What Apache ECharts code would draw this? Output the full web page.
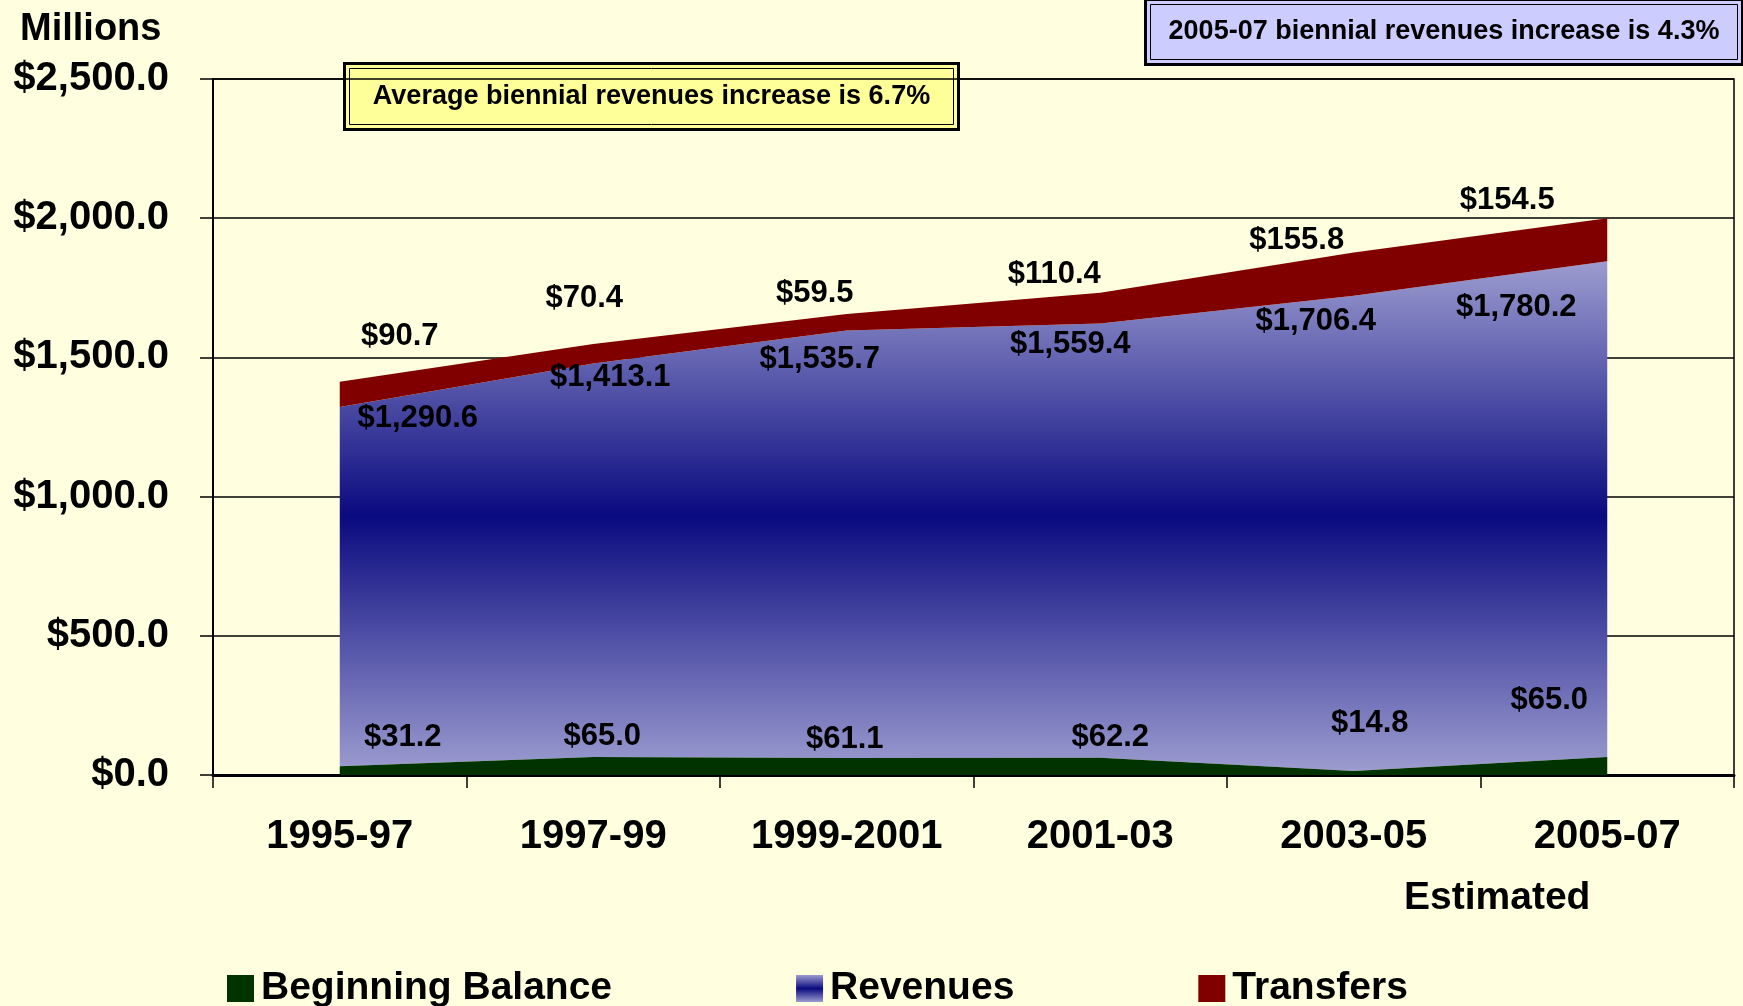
<!DOCTYPE html>
<html>
<head>
<meta charset="utf-8">
<script src="https://cdn.jsdelivr.net/npm/echarts@6/dist/echarts.min.js"></script>
<style>
  html, body { margin: 0; padding: 0; background: #ffffe0; }
  #chart { width: 1743px; height: 1006px; }
</style>
</head>
<body>
<div id="chart"></div>
<script>
const BIENNIUMS = ['1995-97', '1997-99', '1999-2001', '2001-03', '2003-05', '2005-07']
const BEGINNING_BALANCE = [31.2, 65.0, 61.1, 62.2, 14.8, 65.0]
const REVENUES = [1290.6, 1413.1, 1535.7, 1559.4, 1706.4, 1780.2]
const TRANSFERS = [90.7, 70.4, 59.5, 110.4, 155.8, 154.5]
const Y_MIN = 0
const Y_MAX = 2500
const Y_STEP = 500

// label nudges in px, the original had its labels dragged around by hand
const BALANCE_LABEL_SHIFT = [[63, -29], [9, -20], [-2, -19], [10, -20], [16, -47], [-58, -56]]
const REVENUE_LABEL_SHIFT = [[78, 11], [17, 14], [-27, 29], [-30, 21], [-38, 26], [-91, 46]]
const TRANSFER_LABEL_SHIFT = [[60, -45], [-9, -45], [-32, -20], [-46, -18], [-57, -12], [-100, -18]]

const FONT = '"Liberation Sans", Arial, Helvetica, sans-serif'

const COLORS = {
  balance: '#003300',
  transfers: '#800000',
  revenues: new echarts.graphic.LinearGradient(0, 0, 0, 1, [
    { offset: 0, color: '#9c9cd0' },
    { offset: 0.5, color: '#0a0a80' },
    { offset: 1, color: '#9c9cd0' }
  ])
}

function money(v) {
  return '$' + v.toLocaleString('en-US', { minimumFractionDigits: 1, maximumFractionDigits: 1 })
}

function areaSeries(name, values, shifts, fill, z) {
  return {
    name,
    type: 'line',
    stack: 'total',
    z,
    data: values.map((v, i) => ({ value: v, label: { offset: shifts[i] } })),
    symbol: 'circle',
    symbolSize: 0,
    showSymbol: true,
    lineStyle: { width: 0 },
    itemStyle: { color: fill },
    areaStyle: { color: fill, opacity: 1 },
    label: {
      show: true,
      position: 'inside',
      formatter: p => money(p.value),
      color: '#000',
      textBorderWidth: 0,
      fontSize: 31,
      fontWeight: 'bold',
      fontFamily: FONT
    },
    emphasis: { disabled: true }
  }
}

function noteBox(x, y, w, h, fill, text) {
  return {
    type: 'group',
    left: x,
    top: y,
    z: 50,
    children: [
      { type: 'rect', shape: { x: 0, y: 0, width: w, height: h }, style: { fill, stroke: '#000', lineWidth: 3 } },
      { type: 'rect', shape: { x: 5, y: 5, width: w - 10, height: h - 10 }, style: { fill: 'none', stroke: '#000', lineWidth: 1 } },
      {
        type: 'text',
        x: w / 2,
        y: h / 2,
        style: {
          text,
          fill: '#000',
          font: 'bold 27px ' + FONT,
          align: 'center',
          verticalAlign: 'middle'
        }
      }
    ]
  }
}

const chart = echarts.init(document.getElementById('chart'))

chart.setOption({
  backgroundColor: '#ffffe0',
  animation: false,
  grid: {
    left: 213, right: 9, top: 79, bottom: 231,
    show: true,
    borderColor: '#000',
    borderWidth: 1.5,
    backgroundColor: 'transparent'
  },
  legend: {
    left: 222,
    top: 964,
    icon: 'rect',
    itemWidth: 27,
    itemHeight: 27,
    itemGap: 184,
    textStyle: { fontSize: 39, fontWeight: 'bold', fontFamily: FONT, color: '#000', padding: [0, 0, 0, 2] },
    data: [
      { name: 'Beginning Balance', itemStyle: { color: COLORS.balance, borderWidth: 0 }, lineStyle: { width: 0 } },
      { name: 'Revenues', itemStyle: { color: COLORS.revenues, borderWidth: 0 }, lineStyle: { width: 0 } },
      { name: 'Transfers', itemStyle: { color: COLORS.transfers, borderWidth: 0 }, lineStyle: { width: 0 } }
    ]
  },
  xAxis: {
    type: 'category',
    data: BIENNIUMS,
    boundaryGap: true,
    axisLine: { lineStyle: { color: '#000', width: 3 } },
    axisTick: { show: true, length: 13, lineStyle: { color: '#000', width: 1.5 } },
    axisLabel: { color: '#000', fontSize: 40, fontWeight: 'bold', fontFamily: FONT, margin: 42 },
    splitLine: { show: false }
  },
  yAxis: {
    type: 'value',
    min: Y_MIN,
    max: Y_MAX,
    interval: Y_STEP,
    axisLine: { show: true, lineStyle: { color: '#000', width: 2 } },
    axisTick: { show: true, length: 13, lineStyle: { color: '#000', width: 1.5 } },
    axisLabel: { color: '#000', fontSize: 40, fontWeight: 'bold', fontFamily: FONT, margin: 44, formatter: v => money(v) },
    splitLine: { show: true, lineStyle: { color: '#000', width: 1.5 } }
  },
  graphic: [
    {
      type: 'text', left: 20, top: 11,
      style: { text: 'Millions', fill: '#000', font: 'bold 38px ' + FONT }
    },
    {
      type: 'text', left: 1404, top: 879,
      style: { text: 'Estimated', fill: '#000', font: 'bold 39px ' + FONT }
    },
    noteBox(343, 62, 614, 66, '#ffff99', 'Average biennial revenues increase is 6.7%'),
    noteBox(1144, -2, 597, 65, '#ccccff', '2005-07 biennial revenues increase is 4.3%')
  ],
  series: [
    areaSeries('Beginning Balance', BEGINNING_BALANCE, BALANCE_LABEL_SHIFT, COLORS.balance, 3),
    areaSeries('Revenues', REVENUES, REVENUE_LABEL_SHIFT, COLORS.revenues, 2),
    areaSeries('Transfers', TRANSFERS, TRANSFER_LABEL_SHIFT, COLORS.transfers, 2)
  ]
})
</script>
</body>
</html>
